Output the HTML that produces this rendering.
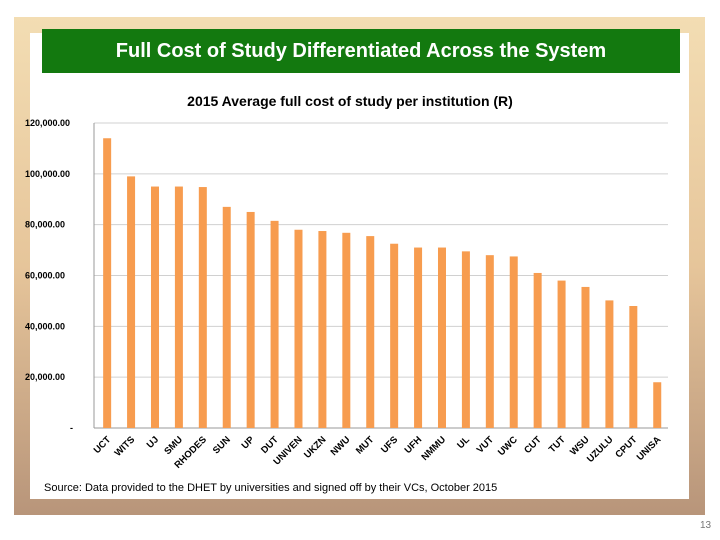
<!DOCTYPE html>
<html><head><meta charset="utf-8"><style>
body{margin:0;width:720px;height:540px;background:#fff;position:relative;overflow:hidden;font-family:"Liberation Sans",sans-serif}
#frame{position:absolute;left:14px;top:17px;width:691px;height:498px;background:linear-gradient(#f3ddb3,#e6c59a 50%,#b8957a)}
#panel{position:absolute;left:30px;top:33px;width:659px;height:466px;background:#fff}
#title{position:absolute;left:42px;top:29px;width:638px;height:44px;background:#13790f;color:#fff;font-size:20px;font-weight:bold;line-height:44px;text-align:center}
#src{position:absolute;left:44px;top:482px;font-size:11px;color:#000}
#pg{position:absolute;left:700px;top:520px;font-size:10px;color:#777}
svg{position:absolute;left:0;top:0}
</style></head><body>
<div id="frame"></div>
<div id="panel"></div>
<div id="title">Full Cost of Study Differentiated Across the System</div>
<svg id="chart" width="720" height="540"></svg>
<div id="src">Source: Data provided to the DHET by universities and signed off by their VCs, October 2015</div>
<div id="pg">13</div>
<script>
const categories=["UCT","WITS","UJ","SMU","RHODES","SUN","UP","DUT","UNIVEN","UKZN","NWU","MUT","UFS","UFH","NMMU","UL","VUT","UWC","CUT","TUT","WSU","UZULU","CPUT","UNISA"];
const values=[114000,99000,95000,95000,94800,87000,85000,81500,78000,77500,76800,75500,72500,71000,71000,69500,68000,67500,61000,58000,55500,50200,48000,18000];
const ticks=[0,20000,40000,60000,80000,100000,120000];
const tickLabels=["-","20,000.00","40,000.00","60,000.00","80,000.00","100,000.00","120,000.00"];
const svg=document.getElementById('chart');const NS="http://www.w3.org/2000/svg";
const x0=94,x1=668,yTop=123,yBot=428,maxV=120000;
const y=v=>yBot-(v/maxV)*(yBot-yTop);
const step=(x1-x0)/categories.length;
const xc=i=>x0+step*(i+0.55);
function mk(t,a){const e=document.createElementNS(NS,t);for(const k in a)e.setAttribute(k,a[k]);svg.appendChild(e);return e;}
const ct=mk('text',{x:350,y:106,'text-anchor':'middle','font-size':'14','font-weight':'bold','font-family':'Liberation Sans,sans-serif'});
ct.textContent='2015 Average full cost of study  per institution  (R)';


ticks.forEach((t,i)=>{
 const g=mk('line',{x1:x0,x2:x1,y1:y(t),y2:y(t),stroke:i==0?'#999':'#d0d0d0','stroke-width':1});
 
 
 const l=mk('text',{x:i==0?70:25,y:y(t)+3,'font-size':'9','font-weight':'bold','font-family':'Liberation Sans,sans-serif'});
 l.textContent=tickLabels[i];
 
 
});
mk('line',{x1:x0,x2:x0,y1:yTop,y2:yBot,stroke:'#999'});
categories.forEach((c,i)=>{
 const b=mk('rect',{x:xc(i)-4,y:y(values[i]),width:8,height:yBot-y(values[i]),fill:'#f79c4f'});
 
 
 const t=mk('text',{x:xc(i)+4,y:yBot+12,'text-anchor':'end','font-size':'9.5','font-weight':'bold','font-family':'Liberation Sans,sans-serif',transform:`rotate(-45 ${xc(i)+4} ${yBot+12})`});
 t.textContent=c;
 
 
});
</script>
</body></html>
